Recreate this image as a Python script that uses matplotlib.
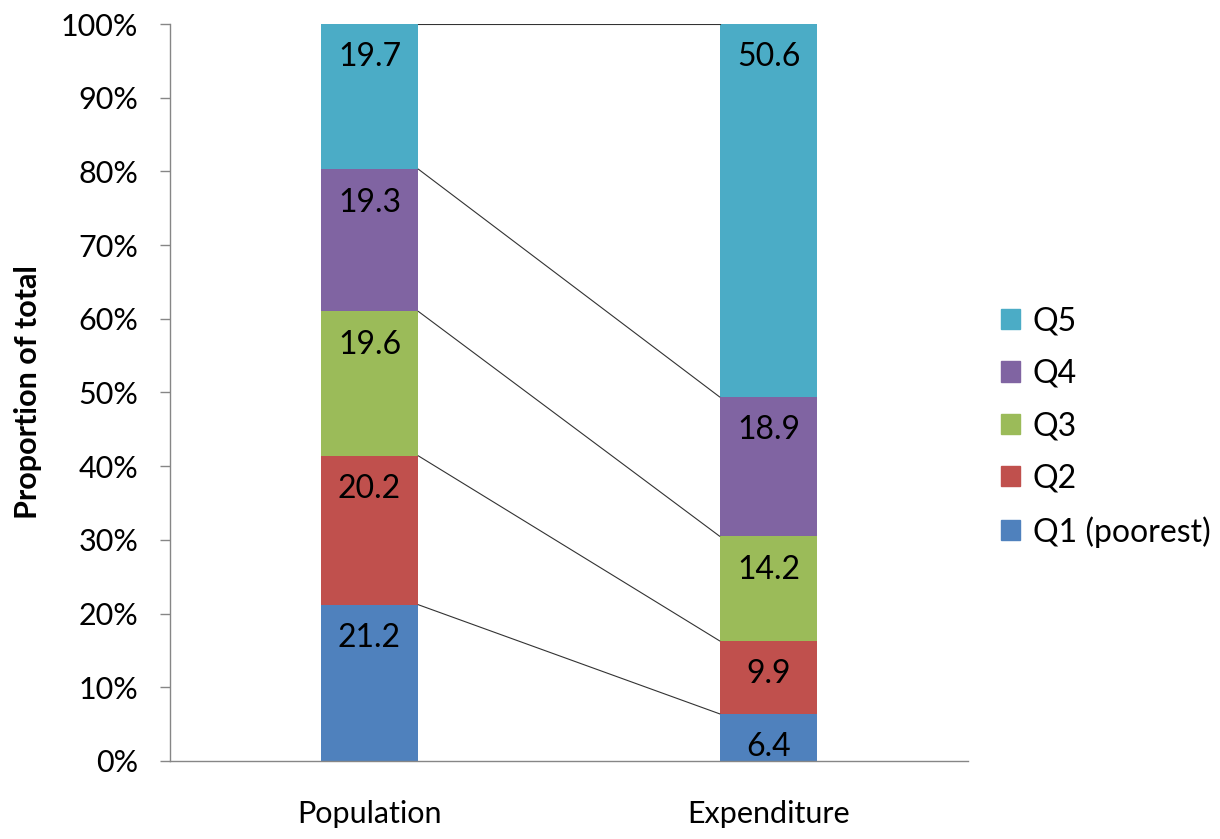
import matplotlib
matplotlib.use("Agg")
import matplotlib.pyplot as plt
import matplotlib.ticker as mticker
from matplotlib.patches import Patch
import numpy as np

plt.rcParams['font.family'] = ['Lato', 'DejaVu Sans']

# data
categories = ['Population', 'Expenditure']
series_names = ['Q1 (poorest)', 'Q2', 'Q3', 'Q4', 'Q5']
population = [21.2, 20.2, 19.6, 19.3, 19.7]
expenditure = [6.4, 9.9, 14.2, 18.9, 50.6]
colors = ['#4F81BD', '#C0504D', '#9BBB59', '#8064A2', '#4BACC6']

values = np.array([population, expenditure]).T  # rows = series, cols = categories
shares = values / values.sum(axis=0)

fig = plt.figure(figsize=(12.2, 8.39), dpi=100)
ax = fig.add_axes([170 / 1220, 1 - 761 / 839, 798 / 1220, 737 / 839])

x = np.arange(len(categories))
width = 0.245
bottom = np.zeros(len(categories))
for i, name in enumerate(series_names):
    ax.bar(x, shares[i], width, bottom=bottom, color=colors[i], label=name, zorder=2)
    tops = bottom + shares[i]
    # data labels, "inside end" style
    for j in range(len(categories)):
        ax.annotate(f'{values[i, j]:.1f}', (x[j], tops[j]), xytext=(0, -24),
                    textcoords='offset points', ha='center', va='center',
                    fontsize=23, color='black', zorder=4)
    bottom = tops

# series lines between the two columns
cum = np.cumsum(shares, axis=0)
for k in range(cum.shape[0]):
    ax.plot([x[0] + width / 2, x[1] - width / 2], [cum[k, 0], cum[k, 1]],
            color='#333333', lw=0.8, zorder=3)

ax.set_xlim(-0.5, 1.5)
ax.set_ylim(0, 1)
ax.yaxis.set_major_locator(mticker.MultipleLocator(0.1))
ax.yaxis.set_major_formatter(mticker.PercentFormatter(1.0, decimals=0))
ax.set_xticks(x)
ax.set_xticklabels(categories)
ax.tick_params(axis='y', labelsize=22, length=7, width=1, color='#868686', pad=16)
ax.tick_params(axis='x', labelsize=22, length=0, pad=28)

for s in ['top', 'right']:
    ax.spines[s].set_visible(False)
for s in ['left', 'bottom']:
    ax.spines[s].set_color('#868686')
    ax.spines[s].set_linewidth(1)

ax.set_ylabel('Proportion of total', fontsize=22, fontweight='bold')
ax.yaxis.set_label_coords(-128 / 798, 0.5)

handles = [Patch(color=colors[i], label=series_names[i]) for i in range(len(series_names))][::-1]
fig.legend(handles=handles, loc='center left', bbox_to_anchor=(1001 / 1220, 1 - 427 / 839),
           frameon=False, fontsize=23, handlelength=0.6, handleheight=0.6,
           handletextpad=0.4, labelspacing=0.7, borderaxespad=0, borderpad=0)

fig.savefig('out.png', dpi=100)
